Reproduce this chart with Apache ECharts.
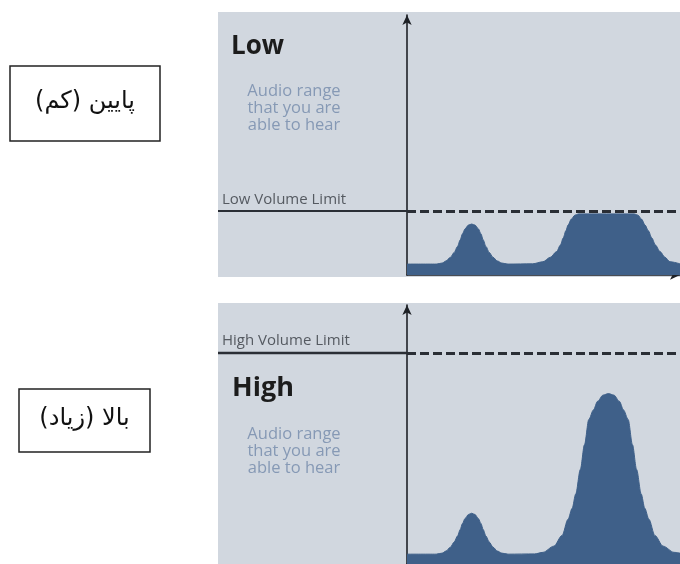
<!DOCTYPE html>
<html>
<head>
<meta charset="utf-8">
<script src="https://cdn.jsdelivr.net/npm/echarts@6/dist/echarts.min.js"></script>
<style>
  html, body { margin: 0; padding: 0; background: #ffffff; }
  #chart { width: 680px; height: 564px; }
</style>
</head>
<body>
<div id="chart"></div>
<script>
// Frequency position across the band (0 = left, 100 = right) and sound level (0–100)
const lowFreq   = [0, 10.7, 12.9, 14.3, 15.9, 17.3, 18.5, 19.5, 20.3, 21.3, 22.5, 23.7, 24.9, 26.1, 27.1, 27.9, 28.9, 30.1, 31.5, 33.1, 34.7, 37,
                   46, 49.8, 52.5, 54.8, 56.2, 57.2, 58.2, 59, 60.2, 61.5, 62.8, 83.3, 84.6, 85.9, 87.2, 88.4, 89.7, 91, 92.7, 94.5, 96.3, 100];
const lowLevel  = [4.2, 4.2, 4.6, 5.4, 6.8, 8.7, 11, 13.5, 15.8, 17.8, 19.2, 19.6, 19.2, 17.8, 15.8, 13.5, 11, 8.7, 6.8, 5.4, 4.6, 4.2,
                   4.3, 5.1, 6.8, 9, 11.5, 14.2, 17, 19.2, 21.5, 23, 23.5, 23.5, 23, 21.5, 19.2, 17, 14.2, 11.5, 9, 6.8, 5.1, 4.3];

const highFreq  = [0, 10.7, 12.9, 14.3, 15.9, 17.3, 18.5, 19.5, 20.3, 21.3, 22.5, 23.7, 24.9, 26.1, 27.1, 27.9, 28.9, 30.1, 31.5, 33.1, 34.7, 37,
                   46.8, 49.8, 53.8, 56.8, 59, 60.5, 61.8, 63.5, 65, 66.6, 68.3, 69.8, 71.8, 73.8, 75.8, 77.8, 79.3, 81, 82.6, 84.1, 85.8, 87.1, 88.6, 90.8, 93.8, 97.8, 100];
const highLevel = [3.8, 3.8, 4.2, 5, 6.5, 8.5, 10.8, 13.3, 15.6, 17.6, 19.1, 19.6, 19.1, 17.6, 15.6, 13.3, 10.8, 8.5, 6.5, 5, 4.2, 3.8,
                   3.9, 4.5, 6.9, 11, 17.3, 21.5, 27, 36.5, 46, 55.8, 59.5, 62.8, 65.2, 65.8, 65.2, 62.8, 59.5, 55.8, 46, 36.5, 27, 21.5, 17.3, 11, 6.9, 4.5, 4.2];

const lowVolumeLimit  = 24.6;
const highVolumeLimit = 81.5;

const panelTitles = ['Low', 'High'];
const limitNames  = ['Low Volume Limit', 'High Volume Limit'];
const rangeText   = ['Audio range', 'that you are', 'able to hear'];
const faLabels    = ['پایین (کم)', 'بالا (زیاد)'];

const PANEL_BG = '#d1d7df';
const FILL     = '#3f6089';
const INK      = '#1e2126';

const pairs = (xs, ys) => xs.map((x, i) => [x, ys[i]]);

const chart = echarts.init(document.getElementById('chart'), null, { renderer: 'canvas' });

function axisPair(gridIndex) {
  const line = {
    show: true,
    symbol: ['none', 'arrow'],
    symbolSize: [7, 10],
    lineStyle: { color: INK, width: 1.6 }
  };
  const common = {
    type: 'value', gridIndex, min: 0, max: 100,
    axisLine: line, axisTick: { show: false }, axisLabel: { show: false }, splitLine: { show: false }
  };
  return { x: Object.assign({}, common), y: Object.assign({}, common) };
}
const a0 = axisPair(0), a1 = axisPair(1);

function levelSeries(idx, data, limit) {
  return {
    type: 'line',
    xAxisIndex: idx, yAxisIndex: idx,
    data,
    smooth: 0.3,
    smoothMonotone: 'x',
    symbol: 'none',
    lineStyle: { width: 1, color: FILL },
    areaStyle: { color: FILL, opacity: 1 },
    z: 2,
    markLine: {
      silent: true,
      symbol: 'none',
      label: { show: false },
      lineStyle: { type: [9, 4], color: '#2a2e35', width: 3 },
      data: [{ yAxis: limit }],
      z: 3
    }
  };
}

chart.setOption({
  animation: false,
  backgroundColor: '#ffffff',
  grid: [
    { left: 407, top: 15, width: 273, height: 260 },
    { left: 407, top: 305, width: 273, height: 260 }
  ],
  xAxis: [a0.x, a1.x],
  yAxis: [a0.y, a1.y],
  series: [
    levelSeries(0, pairs(lowFreq, lowLevel), lowVolumeLimit),
    levelSeries(1, pairs(highFreq, highLevel), highVolumeLimit)
  ]
});

// Panel backgrounds, captions and the limit lines left of the axis
const lowY  = chart.convertToPixel({ gridIndex: 0 }, [0, lowVolumeLimit]);
const highY = chart.convertToPixel({ gridIndex: 1 }, [0, highVolumeLimit]);

const textFont = '"Open Sans", "DejaVu Sans", sans-serif';

function rangeLines(cy) {
  return rangeText.map((t, i) => ({
    type: 'text', z: 5,
    style: {
      text: t, x: 294, y: cy + i * 17,
      textAlign: 'center', textVerticalAlign: 'middle',
      font: '16.5px ' + textFont, fill: '#8699b5'
    }
  }));
}

function faBox(x, y, w, h, label) {
  return [
    { type: 'rect', z: 5, shape: { x, y, width: w, height: h },
      style: { fill: '#ffffff', stroke: '#222222', lineWidth: 1.5 } },
    { type: 'text', z: 6,
      style: { text: label, x: x + w / 2, y: y + h / 2 - 2,
        textAlign: 'center', textVerticalAlign: 'middle',
        font: '24px "DejaVu Sans", sans-serif', fill: '#111111' } }
  ];
}

const elements = [
  { type: 'rect', z: -10, shape: { x: 218, y: 12, width: 462, height: 265 }, style: { fill: PANEL_BG } },
  { type: 'rect', z: -10, shape: { x: 218, y: 303, width: 462, height: 261 }, style: { fill: PANEL_BG } },

  { type: 'line', z: 5, shape: { x1: 218, y1: lowY[1], x2: 407, y2: lowY[1] },
    style: { stroke: '#2a2e35', lineWidth: 2 } },
  { type: 'line', z: 5, shape: { x1: 218, y1: highY[1], x2: 407, y2: highY[1] },
    style: { stroke: '#2a2e35', lineWidth: 2.5 } },

  { type: 'text', z: 5, style: { text: limitNames[0], x: 222, y: lowY[1] - 11,
      textVerticalAlign: 'middle', font: '15px ' + textFont, fill: '#555a61' } },
  { type: 'text', z: 5, style: { text: limitNames[1], x: 222, y: highY[1] - 12,
      textVerticalAlign: 'middle', font: '15px ' + textFont, fill: '#555a61' } },

  { type: 'text', z: 5, style: { text: panelTitles[0], x: 231, y: 47,
      textVerticalAlign: 'middle', font: 'bold 26px ' + textFont, fill: '#1c1c1c' } },
  { type: 'text', z: 5, style: { text: panelTitles[1], x: 232, y: 388,
      textVerticalAlign: 'middle', font: 'bold 27px ' + textFont, fill: '#1c1c1c' } },

  ...rangeLines(91),
  ...rangeLines(434),

  ...faBox(10, 66, 150, 75, faLabels[0]),
  ...faBox(19, 389, 131, 63, faLabels[1])
];

chart.setOption({ graphic: { elements } });
</script>
</body>
</html>
